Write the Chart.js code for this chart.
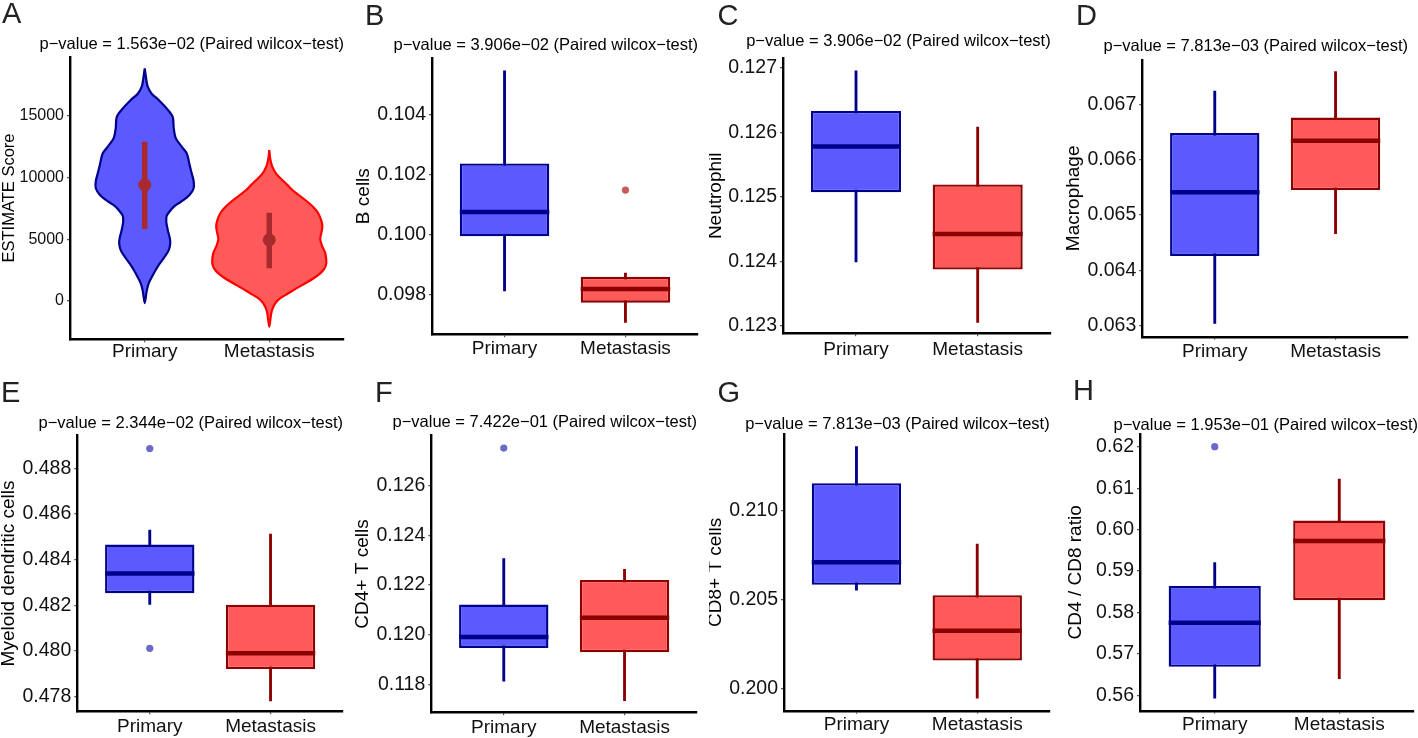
<!DOCTYPE html>
<html>
<head>
<meta charset="utf-8">
<script src="https://cdn.jsdelivr.net/npm/chart.js@4.4.0/dist/chart.umd.min.js"></script>
<style>
  body { margin: 0; background: #fff; }
  #fig { position: relative; width: 1418px; height: 738px; overflow: hidden; background: #fff;
         font-family: 'Liberation Sans', Arial, sans-serif; }
  #fig canvas { position: absolute; }
  .tag { position: absolute; font-size: 29px; line-height: 29px; color: #222; }
</style>
</head>
<body>
<div id="fig"></div>
<script>
const categories = ['Primary', 'Metastasis'];
const panelTags = ['A', 'B', 'C', 'D', 'E', 'F', 'G', 'H'];
const pValues = ['1.563e−02', '3.906e−02', '3.906e−02', '7.813e−03', '2.344e−02', '7.422e−01', '7.813e−03', '1.953e−01'];
const yTitles = ['ESTIMATE Score', 'B cells', 'Neutrophil', 'Macrophage', 'Myeloid dendritic cells',
                 'CD4+ T cells', 'CD8+ T cells', 'CD4 / CD8 ratio'];
const yTicks = [
  [0, 5000, 10000, 15000],
  [0.098, 0.100, 0.102, 0.104],
  [0.123, 0.124, 0.125, 0.126, 0.127],
  [0.063, 0.064, 0.065, 0.066, 0.067],
  [0.478, 0.480, 0.482, 0.484, 0.486, 0.488],
  [0.118, 0.120, 0.122, 0.124, 0.126],
  [0.200, 0.205, 0.210],
  [0.56, 0.57, 0.58, 0.59, 0.60, 0.61, 0.62]
];
const yRanges = [
  [-3133, 19806], [0.096677, 0.10588], [0.122882, 0.127146], [0.0628, 0.0678],
  [0.47736, 0.48943], [0.11687, 0.12801], [0.19878, 0.2143], [0.55628, 0.62307]
];
const tickDecimals = [0, 3, 3, 3, 3, 3, 3, 2];

// panel A: violin outlines (score level, half width in x-axis units)
const estPrimaryLevels = [18860, 18000, 17370, 16800, 16290, 15500, 14900, 14000, 13200, 12500, 11965, 11000,
  10340, 9700, 9125, 8600, 8175, 7750, 7360, 6900, 6400, 5740, 5100, 4660, 4100, 3570, 3000, 2490, 1900, 1410, 800, -200];
const estPrimaryWidth = [0, .012, .024, .056, .112, .185, .225, .233, .249, .297, .337, .361,
  .377, .393, .393, .361, .313, .249, .209, .177, .173, .185, .201, .205, .193, .161, .120, .088, .056, .032, .016, 0];
const estMetLevels = [12230, 11500, 10877, 10300, 9797, 9400, 8986, 8600, 8174, 7600, 7094, 6500, 6007, 5500, 5000,
  4500, 3847, 3036, 2600, 2224, 1800, 1412, 1000, 600, 200, -211, -600, -1023, -1600, -2110];
const estMetWidth = [0, .008, .024, .056, .104, .145, .185, .233, .289, .353, .393, .418, .426, .418, .409,
  .422, .450, .458, .442, .409, .353, .289, .217, .153, .088, .048, .028, .016, .008, 0];
const estCentre = [9390, 4930];
const estLow = [5820, 2640];
const estHigh = [12900, 7130];

// panels B-H: [Primary, Metastasis]
const whiskerLow = [
  [0.09812, 0.09707], [0.12399, 0.12305], [0.06304, 0.06466], [0.48204, 0.47782],
  [0.11812, 0.11734], [0.20554, 0.19948], [0.55928, 0.5640]
];
const boxLow = [
  [0.09994, 0.09773], [0.12507, 0.12387], [0.06426, 0.06545], [0.48253, 0.47921],
  [0.11946, 0.11929], [0.20584, 0.20159], [0.56686, 0.58297]
];
const medians = [
  [0.10075, 0.09819], [0.12578, 0.12442], [0.06541, 0.06634], [0.48340, 0.47990],
  [0.11990, 0.12068], [0.20711, 0.20327], [0.57751, 0.59724]
];
const boxHigh = [
  [0.10237, 0.09859], [0.12633, 0.12519], [0.06648, 0.06676], [0.48466, 0.48203],
  [0.12121, 0.12220], [0.21154, 0.20526], [0.58635, 0.60217]
];
const whiskerHigh = [
  [0.10545, 0.09872], [0.12695, 0.12608], [0.06724, 0.06759], [0.48530, 0.48512],
  [0.12306, 0.12263], [0.21359, 0.20813], [0.59203, 0.61217]
];
const outliers = [
  [[], [0.10148]], [[], []], [[], []], [[0.48887, 0.48012], []],
  [[0.12751], []], [[], []], [[0.620], []]
];

// colours
const fills = ['#5a5aff', '#ff5a5a'];
const edges = ['#00008b', '#8b0000'];
const violinEdges = ['#00008b', '#ff0000'];
const outlierColors = ['#6a6ac8', '#c85a5a'];
const rangeColor = '#a82a2e';

// pixel frame of every panel in the figure
const frames = [
  {left: 0, top: 0, width: 355, axisX: 70, plotRight: 344, plotTop: 56.7, plotBottom: 339.3, titleY: 44, catY: 351.7, yTitleX: 9, tickSize: 16, yTitleSize: 16.5, tagX: 2, tagBase: 23.3},
  {left: 355, top: 0, width: 354, axisX: 432, plotRight: 698, plotTop: 58, plotBottom: 334.3, titleY: 45, catY: 349, yTitleX: 363.5, tagX: 365, tagBase: 25},
  {left: 709, top: 0, width: 354, axisX: 783, plotRight: 1050.7, plotTop: 58.3, plotBottom: 333.3, titleY: 41.7, catY: 349.3, yTitleX: 716, tagX: 717.5, tagBase: 25},
  {left: 1063, top: 0, width: 355, axisX: 1142.3, plotRight: 1408, plotTop: 60, plotBottom: 336.7, titleY: 46.7, catY: 351.7, yTitleX: 1073.5, tagX: 1076, tagBase: 25},
  {left: 0, top: 369, width: 354, axisX: 77.3, plotRight: 343, plotTop: 435.7, plotBottom: 711.3, titleY: 423, catY: 727, yTitleX: 8.5, tagX: 1, tagBase: 402},
  {left: 354, top: 369, width: 355, axisX: 431.3, plotRight: 697, plotTop: 435.7, plotBottom: 712.3, titleY: 422.3, catY: 727.3, yTitleX: 362.5, tagX: 375, tagBase: 402.3},
  {left: 709, top: 369, width: 354, axisX: 784, plotRight: 1049.7, plotTop: 434, plotBottom: 710.7, titleY: 424, catY: 725, yTitleX: 715.5, tagX: 717.5, tagBase: 402},
  {left: 1063, top: 369, width: 355, axisX: 1140, plotRight: 1418, plotTop: 434, plotBottom: 710.7, titleY: 425.7, catY: 725, yTitleX: 1075.5, tagX: 1073, tagBase: 400.7}
];
const panelHeight = 369;
const fontFamily = "'Liberation Sans', Arial, sans-serif";
const boxHalf = 0.37;

const fig = document.getElementById('fig');

function baseOptions(i) {
  const f = frames[i];
  const titleSize = 16.5;
  const titleLH = titleSize * 1.2;
  const tickSize = f.tickSize || 19.5;
  const yTitleSize = f.yTitleSize || 19;
  const gridOpts = {display: true, drawOnChartArea: false, drawTicks: true, tickLength: 3,
                    color: '#555', lineWidth: 1.2, offset: false};
  const borderOpts = {display: true, color: '#000', width: 2.4};
  return {
    responsive: false,
    animation: false,
    devicePixelRatio: 1,
    events: [],
    layout: {padding: {left: 0, top: 0, bottom: 0, right: f.left + f.width - f.plotRight}},
    plugins: {
      legend: {display: false},
      tooltip: {enabled: false},
      title: {
        display: true,
        text: 'p−value = ' + pValues[i] + ' (Paired wilcox−test)',
        align: 'end',
        color: '#000',
        font: {family: fontFamily, size: titleSize, weight: 'normal'},
        padding: {top: f.titleY - f.top - titleLH / 2, bottom: f.plotTop - f.titleY - titleLH / 2}
      }
    },
    scales: {
      x: {
        type: 'linear', min: 0.4, max: 2.6, offset: false,
        afterBuildTicks: s => { s.ticks = categories.map((c, k) => ({value: k + 1})); },
        afterFit: s => { s.height = f.top + panelHeight - f.plotBottom; },
        grid: gridOpts,
        border: borderOpts,
        ticks: {
          color: '#111', autoSkip: false, maxRotation: 0,
          font: {family: fontFamily, size: 19, lineHeight: 1},
          padding: Math.max(0, f.catY - f.plotBottom - 3 - 9.5),
          callback: v => categories[Math.round(v) - 1] || ''
        }
      },
      y: {
        type: 'linear', min: yRanges[i][0], max: yRanges[i][1],
        afterBuildTicks: s => { s.ticks = yTicks[i].map(v => ({value: v})); },
        afterFit: s => { s.width = f.axisX - f.left; },
        grid: gridOpts,
        border: borderOpts,
        ticks: {
          color: '#111', padding: 3,
          font: {family: fontFamily, size: tickSize},
          callback: v => Number(v).toFixed(tickDecimals[i])
        },
        title: {
          display: true, text: yTitles[i], color: '#000',
          font: {family: fontFamily, size: yTitleSize, lineHeight: 1},
          padding: {top: f.yTitleX - f.left - yTitleSize / 2, bottom: 0}
        }
      }
    }
  };
}

function makeCanvas(i) {
  const f = frames[i];
  const c = document.createElement('canvas');
  c.width = f.width;
  c.height = panelHeight;
  c.style.left = f.left + 'px';
  c.style.top = f.top + 'px';
  fig.appendChild(c);

  const tag = document.createElement('div');
  tag.className = 'tag';
  tag.textContent = panelTags[i];
  tag.style.left = f.tagX + 'px';
  tag.style.top = (f.tagBase - 24.5) + 'px';
  fig.appendChild(tag);
  return c;
}

function violinPoints(centre, levels, widths) {
  const right = levels.map((v, k) => ({x: centre + widths[k], y: v}));
  const left = levels.slice(0, -1).map((v, k) => ({x: centre - widths[k], y: v})).reverse();
  return right.concat(left);
}

// panel A: violins
(function () {
  const canvas = makeCanvas(0);
  const datasets = [
    {
      type: 'line', data: violinPoints(1, estPrimaryLevels, estPrimaryWidth),
      borderColor: violinEdges[0], backgroundColor: fills[0], borderWidth: 2.2,
      fill: 'shape', tension: 0.3, pointRadius: 0, order: 5
    },
    {
      type: 'line', data: violinPoints(2, estMetLevels, estMetWidth),
      borderColor: violinEdges[1], backgroundColor: fills[1], borderWidth: 2.2,
      fill: 'shape', tension: 0.3, pointRadius: 0, order: 4
    }
  ];
  categories.forEach((c, k) => {
    datasets.push({
      type: 'line', data: [{x: k + 1, y: estLow[k]}, {x: k + 1, y: estHigh[k]}],
      borderColor: rangeColor, borderWidth: 5.5, pointRadius: 0, fill: false, order: 2
    });
  });
  datasets.push({
    type: 'scatter', data: categories.map((c, k) => ({x: k + 1, y: estCentre[k]})),
    backgroundColor: rangeColor, borderWidth: 0, pointRadius: 6.5, order: 1
  });
  new Chart(canvas, {type: 'line', data: {datasets}, options: baseOptions(0)});
})();

// panels B-H: box plots
for (let p = 0; p < 7; p++) {
  const i = p + 1;
  const canvas = makeCanvas(i);
  const datasets = [
    {
      type: 'bar', label: 'whisker',
      data: categories.map((c, k) => ({x: k + 1, y: [whiskerLow[p][k], whiskerHigh[p][k]]})),
      backgroundColor: edges, borderWidth: 0, barThickness: 2.2, grouped: false, order: 4
    },
    {
      type: 'bar', label: 'box',
      data: categories.map((c, k) => ({x: k + 1, y: [boxLow[p][k], boxHigh[p][k]]})),
      backgroundColor: fills, borderColor: edges, borderWidth: 2.4, borderSkipped: false,
      barPercentage: 0.74, categoryPercentage: 1, grouped: false, order: 3
    }
  ];
  categories.forEach((c, k) => {
    datasets.push({
      type: 'line', label: 'median',
      data: [{x: k + 1 - boxHalf, y: medians[p][k]}, {x: k + 1 + boxHalf, y: medians[p][k]}],
      borderColor: edges[k], borderWidth: 4.5, pointRadius: 0, fill: false, order: 2
    });
    if (outliers[p][k].length) {
      datasets.push({
        type: 'scatter', label: 'outlier',
        data: outliers[p][k].map(v => ({x: k + 1, y: v})),
        backgroundColor: outlierColors[k], borderWidth: 0, pointRadius: 3.6, order: 1
      });
    }
  });
  new Chart(canvas, {type: 'bar', data: {datasets}, options: baseOptions(i)});
}
</script>
</body>
</html>
